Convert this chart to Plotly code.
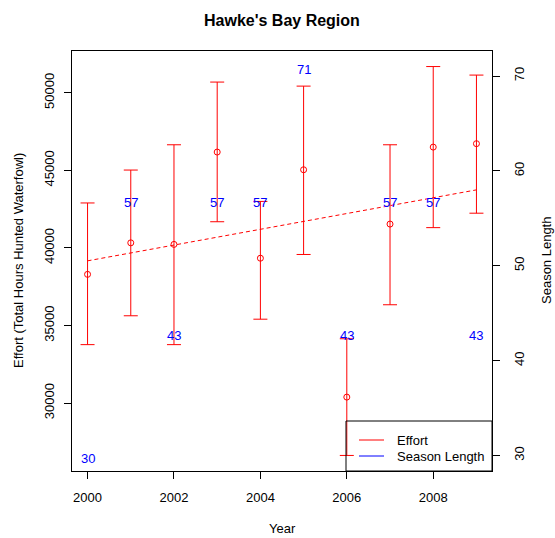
import numpy as np
import plotly.graph_objects as go

# Hunting effort estimates (total hours hunted, waterfowl) with interval bounds
years = [2000, 2001, 2002, 2003, 2004, 2005, 2006, 2007, 2008, 2009]
effort = [38300, 40330, 40230, 46180, 39340, 45040, 30390, 41540, 46500, 46720]
effort_upper = [42900, 45020, 46650, 50690, 43000, 50430, 34150, 46650, 51690, 51140]
effort_lower = [33770, 35630, 33770, 41690, 35410, 39580, 26630, 36340, 41310, 42240]

# Season length in days for each year
season_length = [30, 57, 43, 57, 57, 71, 43, 57, 57, 43]

x_ticks = [2000, 2002, 2004, 2006, 2008]
y_ticks = [30000, 35000, 40000, 45000, 50000]
y2_ticks = [30, 40, 50, 60, 70]

FONT = "Liberation Sans, Arial, Helvetica, sans-serif"
RED = "#FF0000"
BLUE = "#0000FF"

W, H = 555, 538
ML, MR, MT, MB = 72, 63, 51, 67
PW, PH = W - ML - MR, H - MT - MB


def padded(lo, hi, frac=0.04):
    d = hi - lo
    return [lo - frac * d, hi + frac * d]


def px_x(px):
    return (px - ML) / PW


def px_y(py):
    return (H - MB - py) / PH


eff = np.array(effort, dtype=float)
up = np.array(effort_upper, dtype=float)
lo = np.array(effort_lower, dtype=float)
yrs = np.array(years, dtype=float)

# Linear trend fitted to the effort estimates
slope, intercept = np.polyfit(yrs, eff, 1)
trend = slope * yrs + intercept

fig = go.Figure()

# Effort points with interval bars
fig.add_trace(go.Scatter(
    x=years, y=effort, mode="markers",
    marker=dict(symbol="circle-open", size=6, color=RED, line=dict(width=1, color=RED)),
    error_y=dict(type="data", symmetric=False, array=list(up - eff),
                 arrayminus=list(eff - lo), color=RED, thickness=1, width=7),
    showlegend=False,
))

# Trend line
fig.add_trace(go.Scatter(
    x=years, y=list(trend), mode="lines",
    line=dict(color=RED, width=1, dash="4px,3px"),
    showlegend=False,
))

# Invisible trace to activate the secondary axis
fig.add_trace(go.Scatter(x=years, y=season_length, yaxis="y2", mode="markers",
                         marker=dict(opacity=0), hoverinfo="skip", showlegend=False))

axis_common = dict(
    showgrid=False, zeroline=False, showline=True, linecolor="black", linewidth=1,
    ticks="outside", ticklen=7, tickwidth=1, tickcolor="black",
    tickfont=dict(family=FONT, size=13, color="black"),
)

annotations = []
# Season length labels on the secondary axis
for yr, s in zip(years, season_length):
    annotations.append(dict(
        x=yr, y=s, xref="x", yref="y2", text=str(s), showarrow=False,
        xanchor="center", yanchor="middle", yshift=-3,
        font=dict(family=FONT, size=13, color=BLUE)))

annotations += [
    dict(text="<b>Hawke's Bay Region</b>", x=0.5, y=px_y(20), xref="paper", yref="paper",
         showarrow=False, font=dict(family=FONT, size=16, color="black"),
         xanchor="center", yanchor="middle"),
    dict(text="Year", x=0.5, y=px_y(528), xref="paper", yref="paper",
         showarrow=False, font=dict(family=FONT, size=13, color="black"),
         xanchor="center", yanchor="middle"),
    dict(text="Effort (Total Hours Hunted Waterfowl)", x=px_x(18), y=0.5,
         xref="paper", yref="paper", textangle=-90, showarrow=False,
         font=dict(family=FONT, size=13, color="black"),
         xanchor="center", yanchor="middle"),
    dict(text="Season Length", x=px_x(546), y=0.5, xref="paper", yref="paper",
         textangle=-90, showarrow=False,
         font=dict(family=FONT, size=13, color="black"),
         xanchor="center", yanchor="middle"),
    # Legend labels
    dict(text="Effort", x=px_x(395), y=px_y(440), xref="paper", yref="paper",
         showarrow=False, xanchor="left", yanchor="middle",
         font=dict(family=FONT, size=13, color="black")),
    dict(text="Season Length", x=px_x(395), y=px_y(456), xref="paper", yref="paper",
         showarrow=False, xanchor="left", yanchor="middle",
         font=dict(family=FONT, size=13, color="black")),
]

shapes = [
    # Legend frame
    dict(type="rect", xref="paper", yref="paper", x0=px_x(346), x1=1,
         y0=0, y1=px_y(421), line=dict(color="black", width=1),
         fillcolor="rgba(0,0,0,0)"),
    # Legend keys
    dict(type="line", xref="paper", yref="paper", x0=px_x(359), x1=px_x(384),
         y0=px_y(440), y1=px_y(440), line=dict(color=RED, width=1)),
    dict(type="line", xref="paper", yref="paper", x0=px_x(359), x1=px_x(384),
         y0=px_y(456), y1=px_y(456), line=dict(color=BLUE, width=1)),
]

fig.update_layout(
    width=W, height=H, autosize=False,
    margin=dict(l=ML, r=MR, t=MT, b=MB, pad=0),
    paper_bgcolor="white", plot_bgcolor="white",
    font=dict(family=FONT, size=13, color="black"),
    showlegend=False,
    xaxis=dict(range=padded(min(years), max(years)), tickvals=x_ticks,
               mirror=True, ticklabelstandoff=7, **axis_common),
    yaxis=dict(range=padded(lo.min(), up.max()), tickvals=y_ticks, tickformat="d",
               tickangle=-90, mirror=True, ticklabelstandoff=5, **axis_common),
    yaxis2=dict(range=padded(min(season_length), max(season_length)), tickvals=y2_ticks,
                tickangle=-90, overlaying="y", side="right", ticklabelstandoff=8,
                **axis_common),
    annotations=annotations,
    shapes=shapes,
)

fig.write_html("out.html")
